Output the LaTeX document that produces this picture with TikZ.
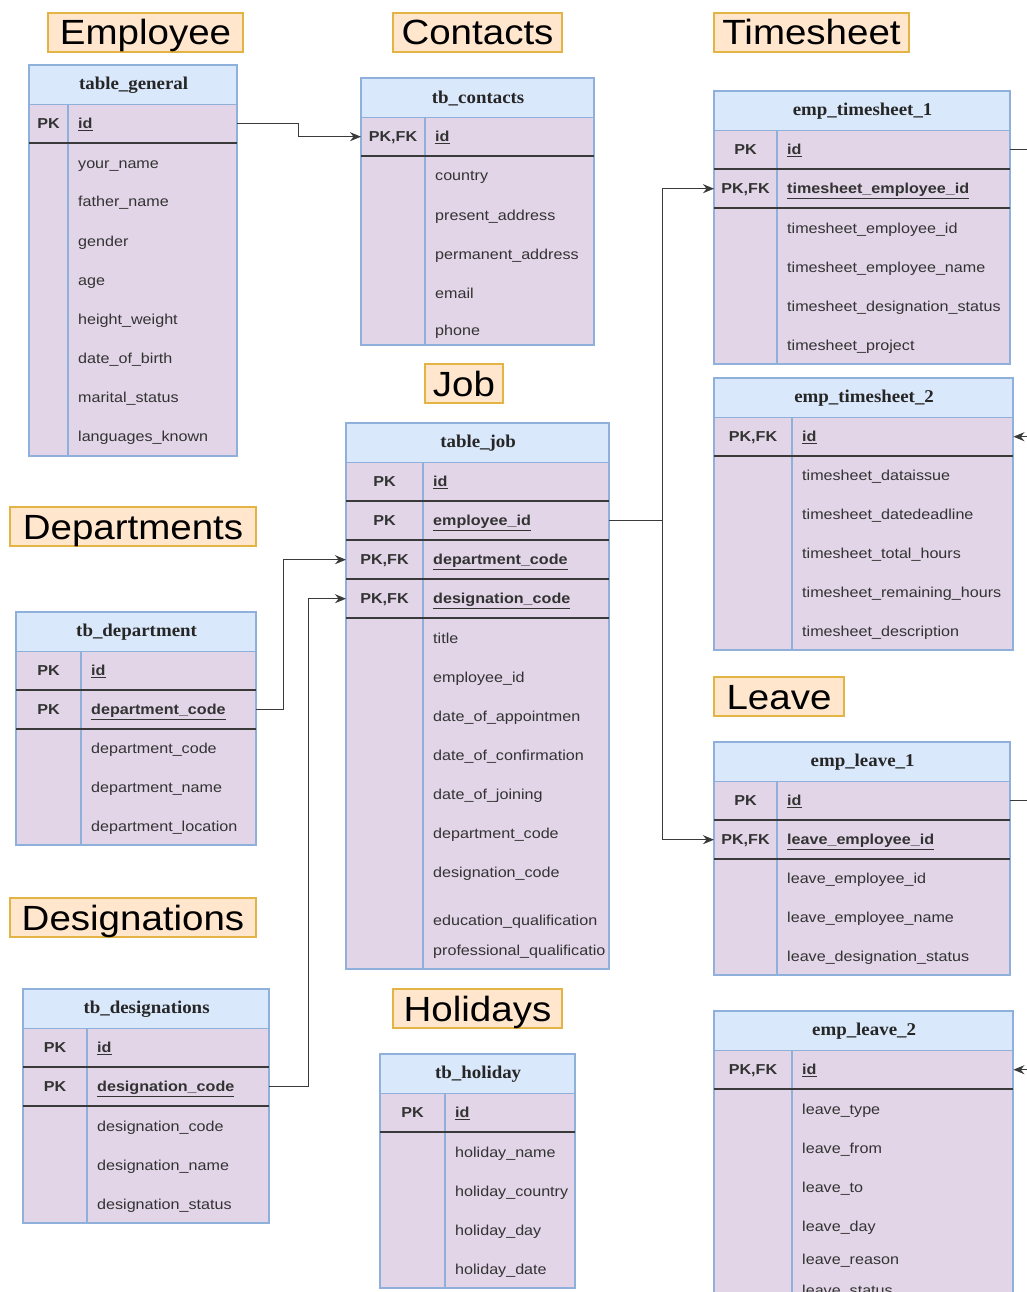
\documentclass[tikz,border=0pt]{standalone}
\usepackage{fontspec}
\setsansfont[FakeStretch=1.12]{Liberation Sans}
\newfontfamily\titlefont[FakeStretch=1.1]{Liberation Sans}
\newfontfamily\hdrfont[FakeStretch=1.05]{Liberation Serif}
\usetikzlibrary{arrows.meta}
\definecolor{hdrf}{HTML}{DAE8FC}
\definecolor{tabb}{HTML}{90B0DC}
\definecolor{bodyf}{HTML}{E1D5E7}
\definecolor{ttlf}{HTML}{FFE6CC}
\definecolor{ttlb}{HTML}{E3B443}
\definecolor{txt}{HTML}{333333}
\definecolor{sepc}{HTML}{3A3A3A}
\newcounter{fc}
\newcommand\tabframe[7]{%
  \fill[bodyf] (#2,#4) rectangle (#3,#5);
  \draw[tabline] (#6,#4+39) -- (#6,#5);
  \node[hdr, minimum width={(#3-#2)*1pt}, anchor=north west] (#1) at (#2,#4) {#7};
  \draw[tabline] (#2,#4) rectangle (#3,#5);
}
\newcommand\krow[7]{%
  \node[rowbox, minimum width={(#3-#2)*1pt}, anchor=north west] (#1) at (#2,#4) {};
  \node[keyt] (#1-k) at ({(#2+#5)/2},#4+24.5) {#6};
  \node[pkf] (#1-f) at (#5+10,#4+24.5) {\underline{#7}};
  \draw[sepl] (#2,#4+39) -- (#3,#4+39);
}
\newcommand\frow[3]{%
  \stepcounter{fc}\node[fld] (f\arabic{fc}) at (#1+10,#2+5) {#3};}
\begin{document}
\begin{tikzpicture}[x=1pt,y=-1pt,
  hdr/.style={draw=tabb, fill=hdrf, line width=1.2pt, minimum height=39pt, inner sep=0pt,
    font=\hdrfont\bfseries\fontsize{18}{20}\selectfont, text=black!85},
  rowbox/.style={minimum height=39pt, inner sep=0pt, draw=none},
  tabline/.style={draw=tabb, line width=1.2pt},
  sepl/.style={draw=sepc, line width=1.4pt},
  keyt/.style={font=\sffamily\bfseries\fontsize{14.4}{17}\selectfont, text=txt, inner sep=0pt, anchor=base},
  pkf/.style={font=\sffamily\bfseries\fontsize{14.4}{17}\selectfont, text=txt, inner sep=0pt, anchor=base west},
  fld/.style={font=\sffamily\fontsize{14.4}{17}\selectfont, text=txt, inner sep=0pt, anchor=base west},
  ttl/.style={draw=ttlb, fill=ttlf, line width=1.2pt, inner sep=0pt, minimum height=39pt,
    text height=25pt, text depth=0pt,
    font=\titlefont\fontsize{35}{38}\selectfont, text=black},
  conn/.style={draw=sepc, line width=1.4pt},
  arr/.style={conn, -{Stealth[length=11pt,width=9pt]}}
]
\useasboundingbox (0,0) rectangle (1027,1292);
\clip (0,0) rectangle (1027,1292);
\fill[white] (0,0) rectangle (1027,1292);

% titles
\node[ttl, minimum width=195pt] (tEmp) at (145.5,32.5) {Employee};
\node[ttl, minimum width=169pt] (tCon) at (477.5,32.5) {Contacts};
\node[ttl, minimum width=195pt] (tTs) at (811.5,32.5) {Timesheet};
\node[ttl, minimum width=78pt] (tJob) at (464,383.5) {Job};
\node[ttl, minimum width=246pt] (tDep) at (133,526.5) {Departments};
\node[ttl, minimum width=130pt] (tLv) at (779,696.5) {Leave};
\node[ttl, minimum width=246pt] (tDes) at (133,917.5) {Designations};
\node[ttl, minimum width=169pt] (tHol) at (477.5,1008.5) {Holidays};

% table_general
\tabframe{gen}{29}{237}{65}{456}{68}{table\_general}
\krow{gen-id}{29}{237}{104}{68}{PK}{id}
\frow{68}{163}{your\_name}
\frow{68}{202}{father\_name}
\frow{68}{241}{gender}
\frow{68}{280}{age}
\frow{68}{319}{height\_weight}
\frow{68}{358}{date\_of\_birth}
\frow{68}{397}{marital\_status}
\frow{68}{436}{languages\_known}

% tb_contacts
\tabframe{con}{361}{594}{78}{345}{425}{tb\_contacts}
\krow{con-id}{361}{594}{117}{425}{PK,FK}{id}
\frow{425}{176}{country}
\frow{425}{215}{present\_address}
\frow{425}{254}{permanent\_address}
\frow{425}{293}{email}
\frow{425}{330}{phone}

% emp_timesheet_1
\tabframe{ts1}{714}{1010}{91}{364}{777}{emp\_timesheet\_1}
\krow{ts1-id}{714}{1010}{130}{777}{PK}{id}
\krow{ts1-emp}{714}{1010}{169}{777}{PK,FK}{timesheet\_employee\_id}
\frow{777}{228}{timesheet\_employee\_id}
\frow{777}{267}{timesheet\_employee\_name}
\frow{777}{306}{timesheet\_designation\_status}
\frow{777}{345}{timesheet\_project}

% emp_timesheet_2
\tabframe{ts2}{714}{1013}{378}{650}{792}{emp\_timesheet\_2}
\krow{ts2-id}{714}{1013}{417}{792}{PK,FK}{id}
\frow{792}{475}{timesheet\_dataissue}
\frow{792}{514}{timesheet\_datedeadline}
\frow{792}{553}{timesheet\_total\_hours}
\frow{792}{592}{timesheet\_remaining\_hours}
\frow{792}{631}{timesheet\_description}

% table_job
\tabframe{job}{346}{609}{423}{969}{423}{table\_job}
\krow{job-id}{346}{609}{462}{423}{PK}{id}
\krow{job-emp}{346}{609}{501}{423}{PK}{employee\_id}
\krow{job-dep}{346}{609}{540}{423}{PK,FK}{department\_code}
\krow{job-des}{346}{609}{579}{423}{PK,FK}{designation\_code}
\frow{423}{638}{title}
\frow{423}{677}{employee\_id}
\frow{423}{716}{date\_of\_appointmen}
\frow{423}{755}{date\_of\_confirmation}
\frow{423}{794}{date\_of\_joining}
\frow{423}{833}{department\_code}
\frow{423}{872}{designation\_code}
\frow{423}{920}{education\_qualification}
\frow{423}{950}{professional\_qualificatio}

% tb_department
\tabframe{dep}{16}{256}{612}{845}{81}{tb\_department}
\krow{dep-id}{16}{256}{651}{81}{PK}{id}
\krow{dep-code}{16}{256}{690}{81}{PK}{department\_code}
\frow{81}{748}{department\_code}
\frow{81}{787}{department\_name}
\frow{81}{826}{department\_location}

% tb_designations
\tabframe{des}{23}{269}{989}{1223}{87}{tb\_designations}
\krow{des-id}{23}{269}{1028}{87}{PK}{id}
\krow{des-code}{23}{269}{1067}{87}{PK}{designation\_code}
\frow{87}{1126}{designation\_code}
\frow{87}{1165}{designation\_name}
\frow{87}{1204}{designation\_status}

% tb_holiday
\tabframe{hol}{380}{575}{1054}{1288}{445}{tb\_holiday}
\krow{hol-id}{380}{575}{1093}{445}{PK}{id}
\frow{445}{1152}{holiday\_name}
\frow{445}{1191}{holiday\_country}
\frow{445}{1230}{holiday\_day}
\frow{445}{1269}{holiday\_date}

% emp_leave_1
\tabframe{lv1}{714}{1010}{742}{975}{777}{emp\_leave\_1}
\krow{lv1-id}{714}{1010}{781}{777}{PK}{id}
\krow{lv1-emp}{714}{1010}{820}{777}{PK,FK}{leave\_employee\_id}
\frow{777}{878}{leave\_employee\_id}
\frow{777}{917}{leave\_employee\_name}
\frow{777}{956}{leave\_designation\_status}

% emp_leave_2
\tabframe{lv2}{714}{1013}{1011}{1330}{792}{emp\_leave\_2}
\krow{lv2-id}{714}{1013}{1050}{792}{PK,FK}{id}
\frow{792}{1109}{leave\_type}
\frow{792}{1148}{leave\_from}
\frow{792}{1187}{leave\_to}
\frow{792}{1226}{leave\_day}
\frow{792}{1259}{leave\_reason}
\frow{792}{1290}{leave\_status}

% connectors
\draw[arr] (gen-id.east) -- ++(61,0) |- (con-id.west);
\draw[arr] (dep-code.east) -- ++(27,0) |- (job-dep.west);
\draw[arr] (des-code.east) -- ++(39,0) |- (job-des.west);
\draw[arr] (job-emp.east) -- ++(53,0) |- (ts1-emp.west);
\draw[arr] (job-emp.east) -- ++(53,0) |- (lv1-emp.west);
\draw[arr] (ts1-id.east) -- ++(40,0) |- (ts2-id.east);
\draw[arr] (lv1-id.east) -- ++(40,0) |- (lv2-id.east);
\end{tikzpicture}
\end{document}
